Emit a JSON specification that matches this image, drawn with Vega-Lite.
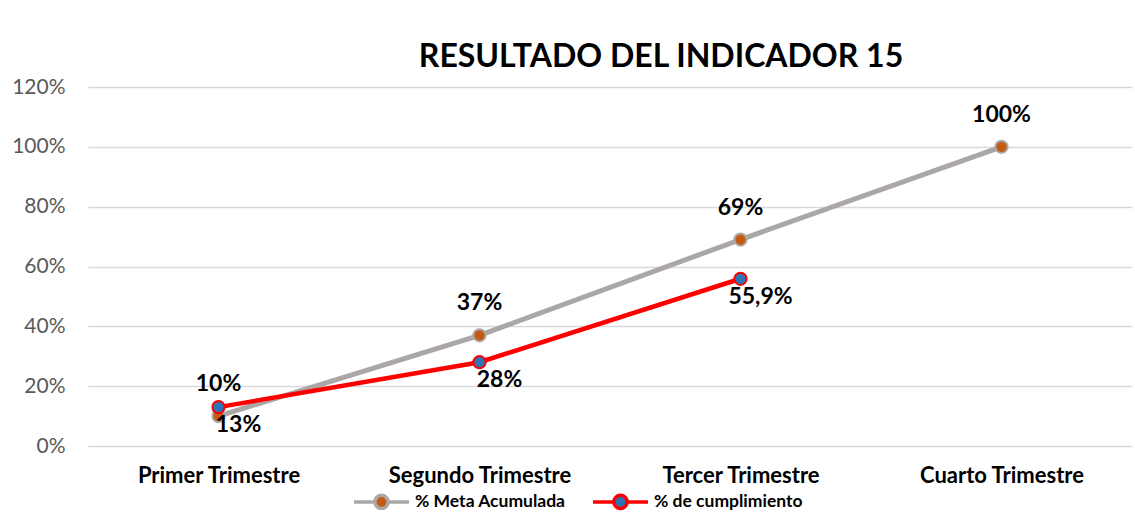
{
  "$schema": "https://vega.github.io/schema/vega-lite/v6.json",
  "width": 1044,
  "height": 359,
  "autosize": {"type": "none"},
  "padding": {"left": 88, "top": 87, "right": 3, "bottom": 83},
  "background": "white",
  "title": {
    "text": "RESULTADO DEL INDICADOR 15",
    "font": "Lato",
    "fontSize": 32,
    "fontWeight": "bold",
    "color": "#000000",
    "anchor": "middle",
    "dx": 51,
    "baseline": "alphabetic",
    "offset": -23
  },
  "data": {
    "values": [
      {"trimestre": "Primer Trimestre", "serie": "% Meta Acumulada", "valor": 0.10, "etiqueta": "10%"},
      {"trimestre": "Segundo Trimestre", "serie": "% Meta Acumulada", "valor": 0.37, "etiqueta": "37%"},
      {"trimestre": "Tercer Trimestre", "serie": "% Meta Acumulada", "valor": 0.69, "etiqueta": "69%"},
      {"trimestre": "Cuarto Trimestre", "serie": "% Meta Acumulada", "valor": 1.00, "etiqueta": "100%"},
      {"trimestre": "Primer Trimestre", "serie": "% de cumplimiento", "valor": 0.13, "etiqueta": "13%"},
      {"trimestre": "Segundo Trimestre", "serie": "% de cumplimiento", "valor": 0.28, "etiqueta": "28%"},
      {"trimestre": "Tercer Trimestre", "serie": "% de cumplimiento", "valor": 0.559, "etiqueta": "55,9%"}
    ]
  },
  "encoding": {
    "x": {
      "field": "trimestre",
      "type": "nominal",
      "sort": ["Primer Trimestre", "Segundo Trimestre", "Tercer Trimestre", "Cuarto Trimestre"],
      "scale": {"type": "point", "padding": 0.5},
      "axis": {
        "title": null,
        "labelAngle": 0,
        "labelFont": "Lato",
        "labelFontSize": 22,
        "labelFontWeight": "bold",
        "labelColor": "#000000",
        "labelPadding": 19,
        "labelLimit": 0,
        "ticks": false,
        "domain": false,
        "grid": false
      }
    },
    "y": {
      "field": "valor",
      "type": "quantitative",
      "scale": {"domain": [0, 1.2], "nice": false},
      "axis": {
        "title": null,
        "values": [0, 0.2, 0.4, 0.6, 0.8, 1.0, 1.2],
        "format": ".0%",
        "labelFont": "Lato",
        "labelFontSize": 21,
        "labelColor": "#595959",
        "labelPadding": 23,
        "ticks": false,
        "domain": false,
        "grid": true,
        "gridColor": "#D9D9D9",
        "gridWidth": 1.5
      }
    }
  },
  "layer": [
    {
      "transform": [{"filter": "datum.serie == '% Meta Acumulada'"}],
      "mark": {"type": "line", "color": "#ABA7A7", "strokeWidth": 5}
    },
    {
      "transform": [{"filter": "datum.serie == '% de cumplimiento'"}],
      "mark": {"type": "line", "color": "#FF0000", "strokeWidth": 4.5}
    },
    {
      "mark": {"type": "point", "filled": true, "size": 150, "strokeWidth": 2, "opacity": 1},
      "encoding": {
        "fill": {
          "field": "serie",
          "type": "nominal",
          "scale": {"domain": ["% Meta Acumulada", "% de cumplimiento"], "range": ["#C55A11", "#2E75B6"]},
          "legend": {"title": null}
        },
        "stroke": {
          "field": "serie",
          "type": "nominal",
          "scale": {"domain": ["% Meta Acumulada", "% de cumplimiento"], "range": ["#ABA7A7", "#FF0000"]},
          "legend": {"title": null}
        }
      }
    },
    {
      "transform": [{"filter": "datum.serie == '% Meta Acumulada'"}],
      "mark": {"type": "text", "font": "Lato", "fontSize": 23, "fontWeight": "bold", "color": "#000000", "dy": -32},
      "encoding": {"text": {"field": "etiqueta"}}
    },
    {
      "transform": [{"filter": "datum.serie == '% de cumplimiento'"}],
      "mark": {"type": "text", "font": "Lato", "fontSize": 23, "fontWeight": "bold", "color": "#000000", "dx": 20, "dy": 18},
      "encoding": {"text": {"field": "etiqueta"}}
    }
  ],
  "config": {
    "view": {"stroke": null},
    "legend": {
      "orient": "none",
      "direction": "horizontal",
      "legendX": 264,
      "legendY": 385,
      "symbolType": "M-1,0L-0.24,0M0.24,0L1,0M-0.24,0A0.24,0.24 0 1,1 0.24,0A0.24,0.24 0 1,1 -0.24,0Z",
      "symbolSize": 3025,
      "symbolStrokeWidth": 3.5,
      "labelFont": "Lato",
      "labelFontSize": 17.5,
      "labelFontWeight": "bold",
      "labelColor": "#000000",
      "labelOffset": 4,
      "columnPadding": 20
    }
  }
}
